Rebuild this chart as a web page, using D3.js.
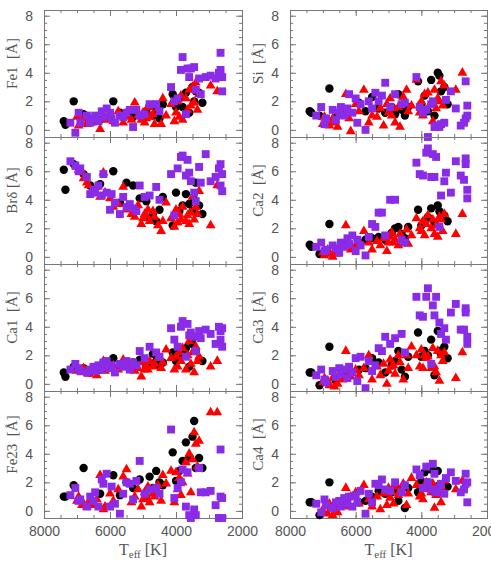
<!DOCTYPE html>
<head>
<meta charset="utf-8">
<style>
  body { margin: 0; background: white; }
  svg { background: white; }
  .tick text { font-family: 'Liberation Sans', Arial, sans-serif; font-size: 14px; fill: #555; }
  .axis path, .axis line { stroke: #777; }
  .ylab, .xlab { font-family: 'Liberation Serif', 'DejaVu Serif', serif; fill: #555; white-space: pre; }
</style>
</head>
<body>
<script src="https://d3js.org/d3.v7.min.js"></script>
<script>
// effective temperatures of the three groups of stars
const teffBlack = [7400,7350,7100,6800,6600,6300,5900,5700,5500,5300,5100,4900,4800,4700,4600,4500,4400,4100,4000,3900,3800,3700,3600,3500,3450,3400,3300,3200];
const teffRed = [7000,6950,6850,6800,6700,6650,6550,6400,6300,6200,6150,6000,5900,5750,5600,5500,5350,5250,5150,5050,5000,4950,4900,4850,4800,4700,4650,4550,4450,4400,4300,4150,4050,4000,3950,3900,3850,3800,3700,3650,3600,3550,3500,3450,3400,3350,3300,2950,2750];
const teffPurple = [7200,7050,6950,6900,6700,6600,6500,6450,6350,6250,6200,6100,6000,5950,5850,5700,5600,5500,5400,5300,5200,5100,4950,4800,4600,4500,4150,4050,3950,3850,3800,3700,3650,3600,3550,3450,3400,3300,3250,3100,2950,2800,2700,2650,2650,2600,2600];

// equivalent widths [A]
const fe1Black = [0.6,0.35,2.0,1.1,0.6,0.7,2.0,1.2,1.2,0.9,1.0,1.3,1.7,1.0,1.3,0.8,1.8,2.5,1.6,2.2,1.6,2.6,1.2,3.0,2.0,2.7,2.6,1.9];
const fe1Red = [0.9,0.3,0.5,0.8,0.4,0.6,0.5,0.8,0.05,0.9,0.7,1.0,0.6,1.3,0.5,0.9,0.7,1.9,1.0,0.7,1.2,0.5,0.8,1.6,0.9,1.1,0.4,1.5,0.4,2.2,1.0,1.8,0.6,1.2,2.0,0.9,2.4,0.7,2.2,1.4,2.8,1.7,3.0,1.9,3.3,1.4,2.5,3.1,2.7];
const fe1Purple = [0.5,-0.2,1.2,0.5,1.0,0.5,0.8,1.0,0.6,1.3,0.9,1.5,1.2,0.8,0.5,1.0,0.9,1.2,1.4,0.2,1.4,1.0,1.1,1.8,1.8,1.3,3.0,2.0,2.2,4.2,5.1,1.1,4.3,3.7,4.3,4.4,2.8,3.6,2.5,3.7,3.8,3.6,4.0,5.4,4.2,3.7,2.7];

const siBlack = [1.3,1.2,1.0,2.9,0.9,1.4,1.9,1.3,2.3,1.5,1.2,1.6,1.1,2.5,1.4,1.0,1.6,3.4,1.8,2.4,1.3,3.5,1.0,4.0,3.8,2.7,3.0,1.8];
const siRed = [0.4,0.9,0.7,0.3,0.8,0.5,0.2,1.0,2.5,0.8,-0.1,1.8,1.3,2.8,0.5,1.0,0.9,1.5,0.3,1.8,1.2,2.2,1.0,1.5,0.5,1.6,0.2,2.3,2.8,1.3,1.7,3.5,1.2,2.0,1.0,2.5,1.4,2.6,1.9,0.6,2.8,1.5,2.2,2.0,3.4,1.7,3.1,2.8,4.0];
const siPurple = [1.0,1.6,0.4,0.8,1.4,0.7,1.2,1.6,1.0,1.5,2.5,1.2,2.2,0.5,1.8,0.0,2.0,1.5,2.6,2.0,2.4,3.3,1.6,2.5,1.8,1.9,3.7,1.6,1.2,1.4,-0.5,1.8,2.0,0.2,0.3,0.2,0.4,0.5,2.1,2.7,1.5,0.3,0.5,3.4,0.8,1.7,1.0];

const brBlack = [6.1,4.7,6.5,5.8,5.0,5.1,6.0,3.8,5.2,5.0,4.1,3.9,2.7,3.0,2.5,3.3,4.2,2.2,4.5,3.2,3.6,4.4,3.7,3.2,4.0,5.2,3.6,3.0];
const brRed = [6.3,6.1,6.0,5.5,5.2,5.0,4.6,4.9,4.2,5.9,4.5,4.1,3.5,3.7,4.9,3.3,3.0,2.8,3.6,2.3,2.7,3.0,2.9,3.3,2.5,3.2,2.8,2.2,1.8,2.5,3.8,2.7,2.1,3.3,2.4,3.0,2.6,3.5,2.5,2.9,2.3,3.1,4.2,2.6,3.5,3.0,4.6,2.2,5.0];
const brPurple = [6.7,6.4,6.0,6.2,5.6,4.4,4.7,4.5,5.0,4.3,5.8,4.5,3.3,4.4,3.8,3.0,4.2,3.5,3.7,3.4,3.2,5.0,4.2,4.3,4.9,4.0,5.8,2.9,6.2,7.0,7.1,5.7,6.8,5.9,5.3,4.5,3.9,6.3,5.2,7.2,5.3,5.6,6.2,6.5,5.0,4.6,5.8];

const ca2Black = [0.85,0.7,0.2,2.3,0.4,0.9,1.0,1.2,1.3,1.4,1.2,1.7,2.0,2.1,1.6,1.3,2.1,3.3,2.2,2.5,2.8,3.4,2.4,3.6,3.2,2.8,2.9,2.5];
const ca2Red = [0.3,0.1,0.5,0.2,0.0,0.4,0.2,0.7,2.2,0.9,0.5,0.8,1.1,1.8,1.0,0.5,1.1,0.8,1.3,0.4,1.0,1.4,1.7,1.0,1.2,0.8,1.6,1.2,1.9,0.9,1.5,2.7,2.0,1.8,2.5,1.5,2.3,2.9,2.0,2.6,1.6,2.2,1.4,2.8,2.6,1.8,3.0,1.6,3.0];
const ca2Purple = [0.7,1.0,0.4,0.5,0.8,0.6,0.3,1.0,0.7,1.3,0.9,1.5,0.4,1.2,0.8,0.1,1.4,2.3,2.1,3.1,3.1,1.5,4.0,4.0,1.2,1.0,6.6,5.8,5.7,7.3,7.6,5.6,7.2,5.6,7.0,2.1,4.3,5.3,5.9,4.5,6.7,5.7,5.4,6.9,6.5,4.7,4.1];

const ca1Black = [0.8,0.5,1.2,1.1,0.8,1.0,1.8,1.2,1.3,1.5,1.7,1.2,1.4,2.1,1.6,1.3,1.5,2.2,1.6,2.4,2.0,2.5,1.2,2.8,3.3,2.3,1.7,1.6];
const ca1Red = [0.9,1.0,0.8,1.1,0.9,0.7,1.0,0.6,1.3,1.6,0.9,1.1,1.3,1.0,1.7,1.2,1.4,0.9,1.1,0.5,1.5,1.0,1.3,1.0,1.6,1.2,1.4,1.8,1.1,1.5,2.4,1.8,1.0,1.9,1.2,2.2,1.6,2.5,1.0,2.0,3.0,1.4,2.2,0.8,2.6,1.6,1.9,1.2,1.6];
const ca1Purple = [1.0,1.4,1.1,0.9,0.8,1.0,1.2,0.9,1.3,1.0,1.5,1.6,1.1,1.3,0.8,1.4,1.2,1.6,1.0,1.5,1.3,2.3,1.8,2.6,2.2,1.9,3.9,3.1,2.6,4.0,4.4,1.9,4.2,3.4,3.6,3.3,2.3,3.7,3.2,3.8,3.5,2.8,4.0,3.7,3.1,2.6,3.9];

const ca3Black = [0.8,0.8,-0.1,2.6,0.2,0.6,1.0,1.1,1.8,1.5,0.8,1.3,1.6,2.3,1.0,0.5,1.9,3.6,1.9,2.3,2.0,3.1,0.6,3.7,2.3,2.1,2.6,1.8];
const ca3Red = [0.1,0.4,0.2,-0.1,0.4,-0.2,0.0,0.3,2.3,0.8,0.5,1.0,0.6,1.1,2.0,0.3,1.2,0.6,1.4,0.0,0.9,1.7,1.2,1.3,0.7,2.0,1.5,0.3,2.0,1.1,2.6,2.0,1.2,2.4,1.1,2.0,1.8,1.9,1.1,2.5,1.2,0.8,2.3,0.2,2.0,1.6,2.2,0.4,2.2];
const ca3Purple = [0.6,1.0,0.3,0.1,0.9,0.5,1.1,0.7,1.0,0.4,1.2,0.8,1.8,0.2,1.9,-0.3,1.6,0.9,1.3,2.5,2.3,3.3,2.8,3.2,3.5,2.2,6.1,4.8,4.7,6.1,6.7,1.4,5.5,4.8,6.1,4.3,3.5,3.9,3.1,5.0,5.6,3.8,3.8,5.3,5.0,3.3,2.8];

const fe23Black = [1.0,1.0,1.8,3.0,0.5,1.2,2.5,1.1,2.0,1.6,2.2,1.0,2.4,1.6,2.8,2.0,1.8,4.1,2.1,2.8,3.5,4.8,3.7,5.2,6.3,3.0,3.7,3.0];
const fe23Red = [0.7,1.0,0.4,0.5,0.3,0.6,0.4,0.8,2.5,0.1,0.3,1.2,0.7,1.5,2.4,2.9,0.6,1.0,1.5,0.3,0.8,1.3,1.0,1.7,0.6,1.2,1.0,1.8,0.7,2.5,1.9,2.8,0.6,2.7,1.5,2.3,1.1,2.0,3.4,2.6,4.0,1.3,3.6,5.5,4.7,3.1,4.9,6.9,6.9];
const fe23Purple = [1.1,1.6,0.7,0.8,0.3,1.0,0.7,1.3,0.3,2.2,1.9,2.6,0.3,1.7,0.5,-0.2,1.2,2.0,1.9,0.8,2.1,3.5,1.2,1.5,1.6,1.2,5.7,0.9,1.6,2.0,2.9,0.3,2.7,-0.3,-0.5,0.1,-0.3,3.0,1.3,1.3,1.4,0.4,-0.5,4.3,1.0,0.9,-0.5];

const ca4Black = [0.6,0.6,-0.3,2.0,0.2,0.5,0.6,0.7,1.0,1.4,1.2,1.3,1.6,0.7,1.5,0.2,1.6,1.3,2.1,2.7,2.0,2.9,1.3,2.8,1.8,1.5,1.9,1.7];
const ca4Red = [0.0,0.3,-0.2,0.5,-0.3,0.2,-0.1,0.6,1.6,0.3,1.0,1.3,0.5,1.8,0.8,0.3,1.0,0.1,1.2,0.4,1.6,0.9,1.3,0.5,1.7,1.1,1.4,1.9,0.4,1.2,2.3,1.8,1.0,1.2,0.8,1.6,2.0,1.5,1.3,1.9,0.2,1.1,1.7,1.2,0.6,1.5,2.1,1.5,2.1];
const ca4Purple = [0.5,-0.1,0.8,0.4,0.2,0.6,0.7,0.3,0.9,0.5,1.0,0.3,1.1,0.6,1.4,-0.2,1.2,0.6,1.9,1.8,2.2,1.5,1.4,2.0,1.3,1.8,2.9,2.5,1.6,3.1,2.0,1.5,3.3,2.6,1.3,1.6,1.9,1.2,2.3,2.7,2.1,1.3,1.5,2.6,1.9,0.6,2.0];

const xTicks = [8000, 6000, 4000, 2000];
const yTicks = [0, 2, 4, 6, 8];

const panels = [
  {label: 'Fe1  [Å]',  col: 0, row: 0, black: fe1Black,  red: fe1Red,  purple: fe1Purple},
  {label: 'Si  [Å]',   col: 1, row: 0, black: siBlack,   red: siRed,   purple: siPurple},
  {label: 'Brδ [Å]',   col: 0, row: 1, black: brBlack,   red: brRed,   purple: brPurple},
  {label: 'Ca2  [Å]',  col: 1, row: 1, black: ca2Black,  red: ca2Red,  purple: ca2Purple},
  {label: 'Ca1  [Å]',  col: 0, row: 2, black: ca1Black,  red: ca1Red,  purple: ca1Purple},
  {label: 'Ca3  [Å]',  col: 1, row: 2, black: ca3Black,  red: ca3Red,  purple: ca3Purple},
  {label: 'Fe23  [Å]', col: 0, row: 3, black: fe23Black, red: fe23Red, purple: fe23Purple},
  {label: 'Ca4  [Å]',  col: 1, row: 3, black: ca4Black,  red: ca4Red,  purple: ca4Purple}
];

// layout
const width = 491, height = 577;
const colX = [[44, 242], [290, 487]];
const rowTop = 10, rowH = 127;
const purpleCol = '#8a2be8';

const svg = d3.select('body').append('svg')
  .attr('width', width)
  .attr('height', height);

const tri = d3.symbol().type(d3.symbolTriangle).size(42);
const sq = d3.symbol().type(d3.symbolSquare).size(62);

panels.forEach(p => {
  const [x0, x1] = colX[p.col];
  const top = rowTop + p.row * rowH, bottom = top + rowH;
  const x = d3.scaleLinear([8000, 2000], [x0, x1]);
  const y = d3.scaleLinear([-0.5, 8.4], [bottom, top]);
  const g = svg.append('g');
  const last = p.row === 3;

  // frame + ticks (major and minor, inward, on all four sides)
  const minorX = d3.range(8000, 1999, -500);
  const minorY = d3.range(0, 8.01, 0.5);

  const addAxis = (axis, tr) => g.append('g').attr('class', 'axis').attr('transform', tr).call(axis);

  addAxis(d3.axisBottom(x).tickValues(minorX).tickSize(-3).tickFormat(''), `translate(0,${bottom})`);
  addAxis(d3.axisTop(x).tickValues(minorX).tickSize(-3).tickFormat(''), `translate(0,${top})`);
  addAxis(d3.axisLeft(y).tickValues(minorY).tickSize(-3).tickFormat(''), `translate(${x0},0)`);
  addAxis(d3.axisRight(y).tickValues(minorY).tickSize(-3).tickFormat(''), `translate(${x1},0)`);

  addAxis(d3.axisBottom(x).tickValues(xTicks).tickSize(-6).tickPadding(8)
      .tickFormat(last ? d3.format('d') : ''), `translate(0,${bottom})`);
  addAxis(d3.axisTop(x).tickValues(xTicks).tickSize(-6).tickFormat(''), `translate(0,${top})`);
  addAxis(d3.axisLeft(y).tickValues(yTicks).tickSize(-6).tickPadding(11)
      .tickFormat(d3.format('d')), `translate(${x0},0)`);
  addAxis(d3.axisRight(y).tickValues(yTicks).tickSize(-6).tickFormat(''), `translate(${x1},0)`);

  g.selectAll('.domain').attr('stroke', '#777');

  // y title
  const lx = x0 - 27, ly = (top + bottom) / 2 - 10;
  g.append('text')
    .attr('class', 'ylab')
    .attr('transform', `translate(${lx},${ly}) rotate(-90)`)
    .attr('text-anchor', 'middle')
    .attr('font-size', 15)
    .text(p.label);

  // points
  const pts = g.append('g');
  pts.selectAll('circle').data(teffBlack.map((t, i) => [t, p.black[i]]))
    .join('circle')
    .attr('cx', d => x(d[0]))
    .attr('cy', d => y(d[1]))
    .attr('r', 4.2)
    .attr('fill', '#000');
  pts.selectAll('path.r').data(teffRed.map((t, i) => [t, p.red[i]]))
    .join('path')
    .attr('class', 'r')
    .attr('d', tri)
    .attr('transform', d => `translate(${x(d[0])},${y(d[1])})`)
    .attr('fill', '#ff0000');
  pts.selectAll('path.p').data(teffPurple.map((t, i) => [t, p.purple[i]]))
    .join('path')
    .attr('class', 'p')
    .attr('d', sq)
    .attr('transform', d => `translate(${x(d[0])},${y(d[1])})`)
    .attr('fill', purpleCol);

  // x title
  if (last) {
    const t = g.append('text')
      .attr('class', 'xlab')
      .attr('x', (x0 + x1) / 2)
      .attr('y', 555)
      .attr('text-anchor', 'middle')
      .attr('font-size', 16);
    t.append('tspan').text('T');
    t.append('tspan').attr('font-size', 11).attr('dy', 3).text('eff');
    t.append('tspan').attr('dy', -3).text(' [K]');
  }
});
</script>
</body>
